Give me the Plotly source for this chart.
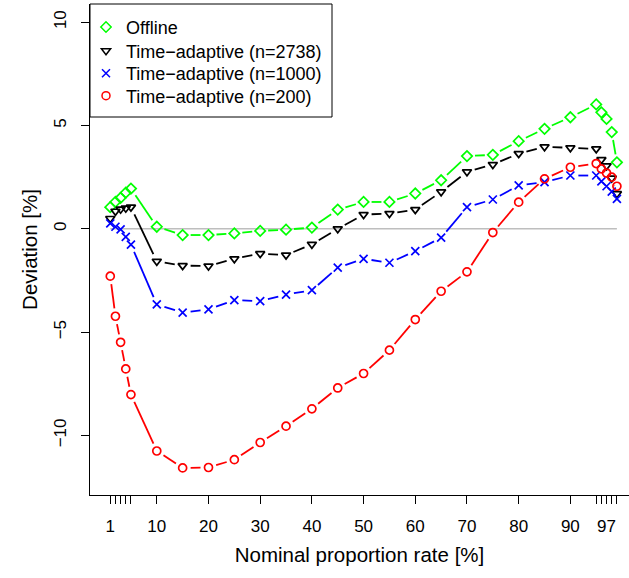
import math
import plotly.graph_objects as go

# ---------------- data ----------------
nominal = [1, 2, 3, 4, 5, 10, 15, 20, 25, 30, 35, 40, 45, 50, 55, 60, 65, 70,
           75, 80, 85, 90, 95, 96, 97, 98, 99]

offline = [1.05, 1.3, 1.5, 1.75, 1.95, 0.1, -0.3, -0.3, -0.22, -0.1, -0.04, 0.06,
           0.93, 1.3, 1.3, 1.71, 2.35, 3.52, 3.58, 4.24, 4.84, 5.4, 6.02, 5.64,
           5.32, 4.68, 3.22]

ta_2738 = [0.5, 0.85, 0.95, 1.0, 1.05, -1.57, -1.78, -1.8, -1.45, -1.2, -1.27,
           -0.75, 0.0, 0.69, 0.74, 0.93, 1.79, 2.76, 3.11, 3.64, 3.97, 3.92,
           3.87, 3.35, 3.05, 2.45, 1.7]

ta_1000 = [0.26, 0.1, -0.03, -0.39, -0.76, -3.66, -4.05, -3.9, -3.45, -3.5, -3.18,
           -2.97, -1.88, -1.45, -1.64, -1.08, -0.43, 1.05, 1.42, 2.1, 2.26, 2.58,
           2.58, 2.3, 2.06, 1.8, 1.45]

ta_200 = [-2.29, -4.23, -5.49, -6.78, -8.02, -10.75, -11.57, -11.55, -11.17,
          -10.34, -9.55, -8.71, -7.7, -7.0, -5.87, -4.39, -3.02, -2.08, -0.18,
          1.29, 2.42, 2.98, 3.16, 2.9, 2.7, 2.5, 2.06]

series_names = ["Offline", "Time\u2212adaptive (n=2738)",
                "Time\u2212adaptive (n=1000)", "Time\u2212adaptive (n=200)"]

x_tickvals = [1, 2, 3, 4, 5, 10, 20, 30, 40, 50, 60, 70, 80, 90, 95, 96, 97, 98, 99]
x_ticktext = ["1", "", "", "", "", "10", "20", "30", "40", "50", "60", "70",
              "80", "90", "", "", "97", "", ""]
y_tickvals = [-10, -5, 0, 5, 10]

# ---------------- layout geometry ----------------
W, H = 629, 578
ML, MR, MT, MB = 90, 0, 4, 83
PW, PH = W - ML - MR, H - MT - MB
XR = [-2.92, 101.34]
YR = [-12.88, 10.88]
FONT = "Liberation Sans, Arial, Helvetica, sans-serif"

styles = [
    dict(color="#00FF00", symbol="diamond-open", size=8),
    dict(color="#000000", symbol="triangle-down-open", size=8),
    dict(color="#0000FF", symbol="x-thin-open", size=8),
    dict(color="#FF0000", symbol="circle-open", size=8),
]
values = [offline, ta_2738, ta_1000, ta_200]

# legend box (pixels) and row centres
LEG_LEFT, LEG_RIGHT, LEG_TOP, LEG_BOTTOM = 90, 332, 4, 117
LEG_ROWS = [27.3, 51.0, 73.5, 96.0]
LEG_X = 86


def px_to_paper_x(px):
    return (px - ML) / PW


def px_to_paper_y(py):
    return (H - MB - py) / PH


def gapped(xs, ys, gap=8.0):
    """Line segments between points, shortened near each point (R type='b')."""
    kx = PW / (XR[1] - XR[0])
    ky = PH / (YR[1] - YR[0])
    gx, gy = [], []
    for i in range(len(xs) - 1):
        ddx, ddy = xs[i + 1] - xs[i], ys[i + 1] - ys[i]
        d = math.hypot(ddx * kx, ddy * ky)
        if d > 2 * gap:
            f = gap / d
            gx += [xs[i] + ddx * f, xs[i + 1] - ddx * f, None]
            gy += [ys[i] + ddy * f, ys[i + 1] - ddy * f, None]
    return gx, gy


fig = go.Figure()

# zero reference line
fig.add_trace(go.Scatter(x=[min(nominal), max(nominal)], y=[0, 0], mode="lines",
                         line=dict(color="#BEBEBE", width=1.5),
                         showlegend=False, hoverinfo="skip"))

for vals, st in zip(values, styles):
    gx, gy = gapped(nominal, vals)
    fig.add_trace(go.Scatter(x=gx, y=gy, mode="lines",
                             line=dict(color=st["color"], width=1.8),
                             showlegend=False, hoverinfo="skip"))
    fig.add_trace(go.Scatter(x=nominal, y=vals, mode="markers",
                             marker=dict(symbol=st["symbol"], size=st["size"],
                                         color=st["color"],
                                         line=dict(color=st["color"], width=1.7)),
                             showlegend=False))

# legend-only entries (symbols only, like R's legend with pch), one legend per row
legend_layouts = {}
for i, (name, st) in enumerate(zip(series_names, styles)):
    key = "legend" if i == 0 else f"legend{i + 1}"
    fig.add_trace(go.Scatter(x=[None], y=[None], mode="markers", name=name,
                             legend=key,
                             marker=dict(symbol=st["symbol"], size=st["size"],
                                         color=st["color"],
                                         line=dict(color=st["color"], width=1.5))))
    legend_layouts[key] = dict(
        x=px_to_paper_x(LEG_X), y=px_to_paper_y(LEG_ROWS[i]),
        xanchor="left", yanchor="middle",
        bgcolor="rgba(0,0,0,0)", borderwidth=0, itemwidth=30,
        font=dict(family=FONT, size=18, color="black"))

fig.update_layout(
    width=W, height=H,
    margin=dict(l=ML, r=MR, t=MT, b=MB, pad=0),
    paper_bgcolor="white", plot_bgcolor="white",
    font=dict(family=FONT, size=17, color="black"),
    showlegend=True,
    xaxis=dict(range=XR, autorange=False, showgrid=False, zeroline=False,
               showline=True, linecolor="black", linewidth=1,
               ticks="outside", ticklen=8, tickwidth=1, tickcolor="black",
               tickmode="array", tickvals=x_tickvals, ticktext=x_ticktext,
               ticklabelstandoff=8, tickfont=dict(size=17),
               title=dict(text="Nominal proportion rate [%]", standoff=12,
                          font=dict(size=20.5))),
    yaxis=dict(range=YR, autorange=False, showgrid=False, zeroline=False,
               showline=True, linecolor="black", linewidth=1,
               ticks="outside", ticklen=8, tickwidth=1, tickcolor="black",
               tickmode="array", tickvals=y_tickvals, tickangle=-90,
               ticklabelstandoff=8, tickfont=dict(size=17),
               title=dict(text="Deviation [%]", standoff=8,
                          font=dict(size=20.5))),
    shapes=[dict(type="rect", xref="paper", yref="paper",
                 x0=px_to_paper_x(LEG_LEFT), x1=px_to_paper_x(LEG_RIGHT),
                 y0=px_to_paper_y(LEG_BOTTOM), y1=px_to_paper_y(LEG_TOP),
                 line=dict(color="black", width=1), fillcolor="rgba(0,0,0,0)")],
)
fig.update_layout(**legend_layouts)

fig.write_html("out.html")
